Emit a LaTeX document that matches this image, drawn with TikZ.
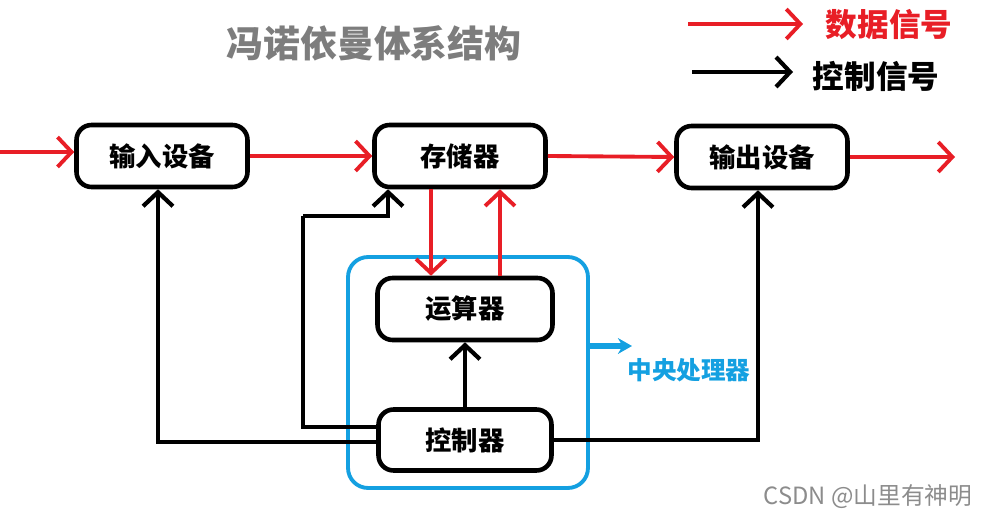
\documentclass[tikz,border=0pt]{standalone}
\usepackage{fontspec}
\newfontfamily\cjk{Noto Sans CJK SC}
\usetikzlibrary{arrows.meta}
\definecolor{sigred}{RGB}{232,30,38}
\definecolor{cpublue}{RGB}{20,160,225}
\definecolor{titlegray}{RGB}{125,125,125}

\begin{document}
\begin{tikzpicture}[x=0.02cm,y=-0.02cm,
  unit/.style={draw,line width=2.6pt,rounded corners=0.3cm,minimum width=3.42cm,
    minimum height=1.24cm,font=\cjk\bfseries\fontsize{15}{18}\selectfont},
  data/.style={draw=sigred,line width=2.2pt,-{Straight Barb[length=8pt,width=17pt]}},
  ctrl/.style={draw,line width=2.4pt,-{Straight Barb[length=8pt,width=17pt]}},
  ctrlline/.style={draw,line width=2.4pt}]
  \useasboundingbox (0,0) rectangle (995,523);

  % title and legend
  \node[font=\cjk\bfseries\fontsize{21}{24}\selectfont,text=titlegray] (title) at (374,43) {冯诺依曼体系结构};
  \coordinate (dfrom) at (688,24);
  \coordinate (dto) at (803,24);
  \draw[data] (dfrom) -- (dto);
  \node[font=\cjk\bfseries\fontsize{18}{21}\selectfont,text=sigred] (dlbl) at (889,25) {数据信号};
  \coordinate (cfrom) at (692,72);
  \coordinate (cto) at (793,72);
  \draw[ctrl] (cfrom) -- (cto);
  \node[font=\cjk\bfseries\fontsize{18}{21}\selectfont] (clbl) at (876,76) {控制信号};

  % units
  \node[unit] (inp) at (162,156) {输入设备};
  \node[unit] (mem) at (460,156) {存储器};
  \node[unit] (outp) at (762,157) {输出设备};
  \node[unit,minimum width=3.5cm] (alu) at (465,309) {运算器};
  \node[unit,minimum width=3.46cm,minimum height=1.22cm] (ctl) at (465,440) {控制器};

  % CPU
  \node[draw=cpublue,line width=2.2pt,rounded corners=0.4cm,minimum width=4.8cm,
    minimum height=4.62cm] (cpu) at (468,372.5) {};
  \coordinate (cputip) at (632,346);
  \draw[cpublue,line width=3pt,-{Stealth[length=8pt,width=9pt]}] (cpu.east |- cputip) -- (cputip);
  \node[font=\cjk\bfseries\fontsize{14}{17}\selectfont,text=cpublue] (cpulbl) at (689,370) {中央处理器};

  % data signals
  \coordinate (src) at (0,152);
  \coordinate (sink) at (955,157);
  \draw[data] (src) -- (inp.west |- src);
  \draw[data] (inp.east) -- (mem.west);
  \draw[data] (mem.east) -- (outp.west);
  \draw[data] (outp.east) -- (sink);
  \draw[data] ([xshift=-0.58cm]mem.south) -- ([xshift=-0.58cm]mem.south |- alu.north);
  \draw[data] ([xshift=0.7cm]alu.north) -- ([xshift=0.7cm]alu.north |- mem.south);

  % control signals
  \coordinate (bend) at (303,216);
  \draw[ctrl] (ctl.north) -- (alu.south);
  \draw[ctrl] ([yshift=-0.04cm]ctl.west) -| ([xshift=-0.08cm]inp.south);
  \draw[ctrlline] ([yshift=0.26cm]ctl.west) -| (bend);
  \draw[ctrl] (bend) -| ([xshift=-1.44cm]mem.south);
  \draw[ctrl] (ctl.east) -| ([xshift=-0.08cm]outp.south);

  \node[font=\cjk\fontsize{13.5}{16}\selectfont,text=black!45] (mark) at (868,497) {CSDN @山里有神明};
\end{tikzpicture}
\end{document}
